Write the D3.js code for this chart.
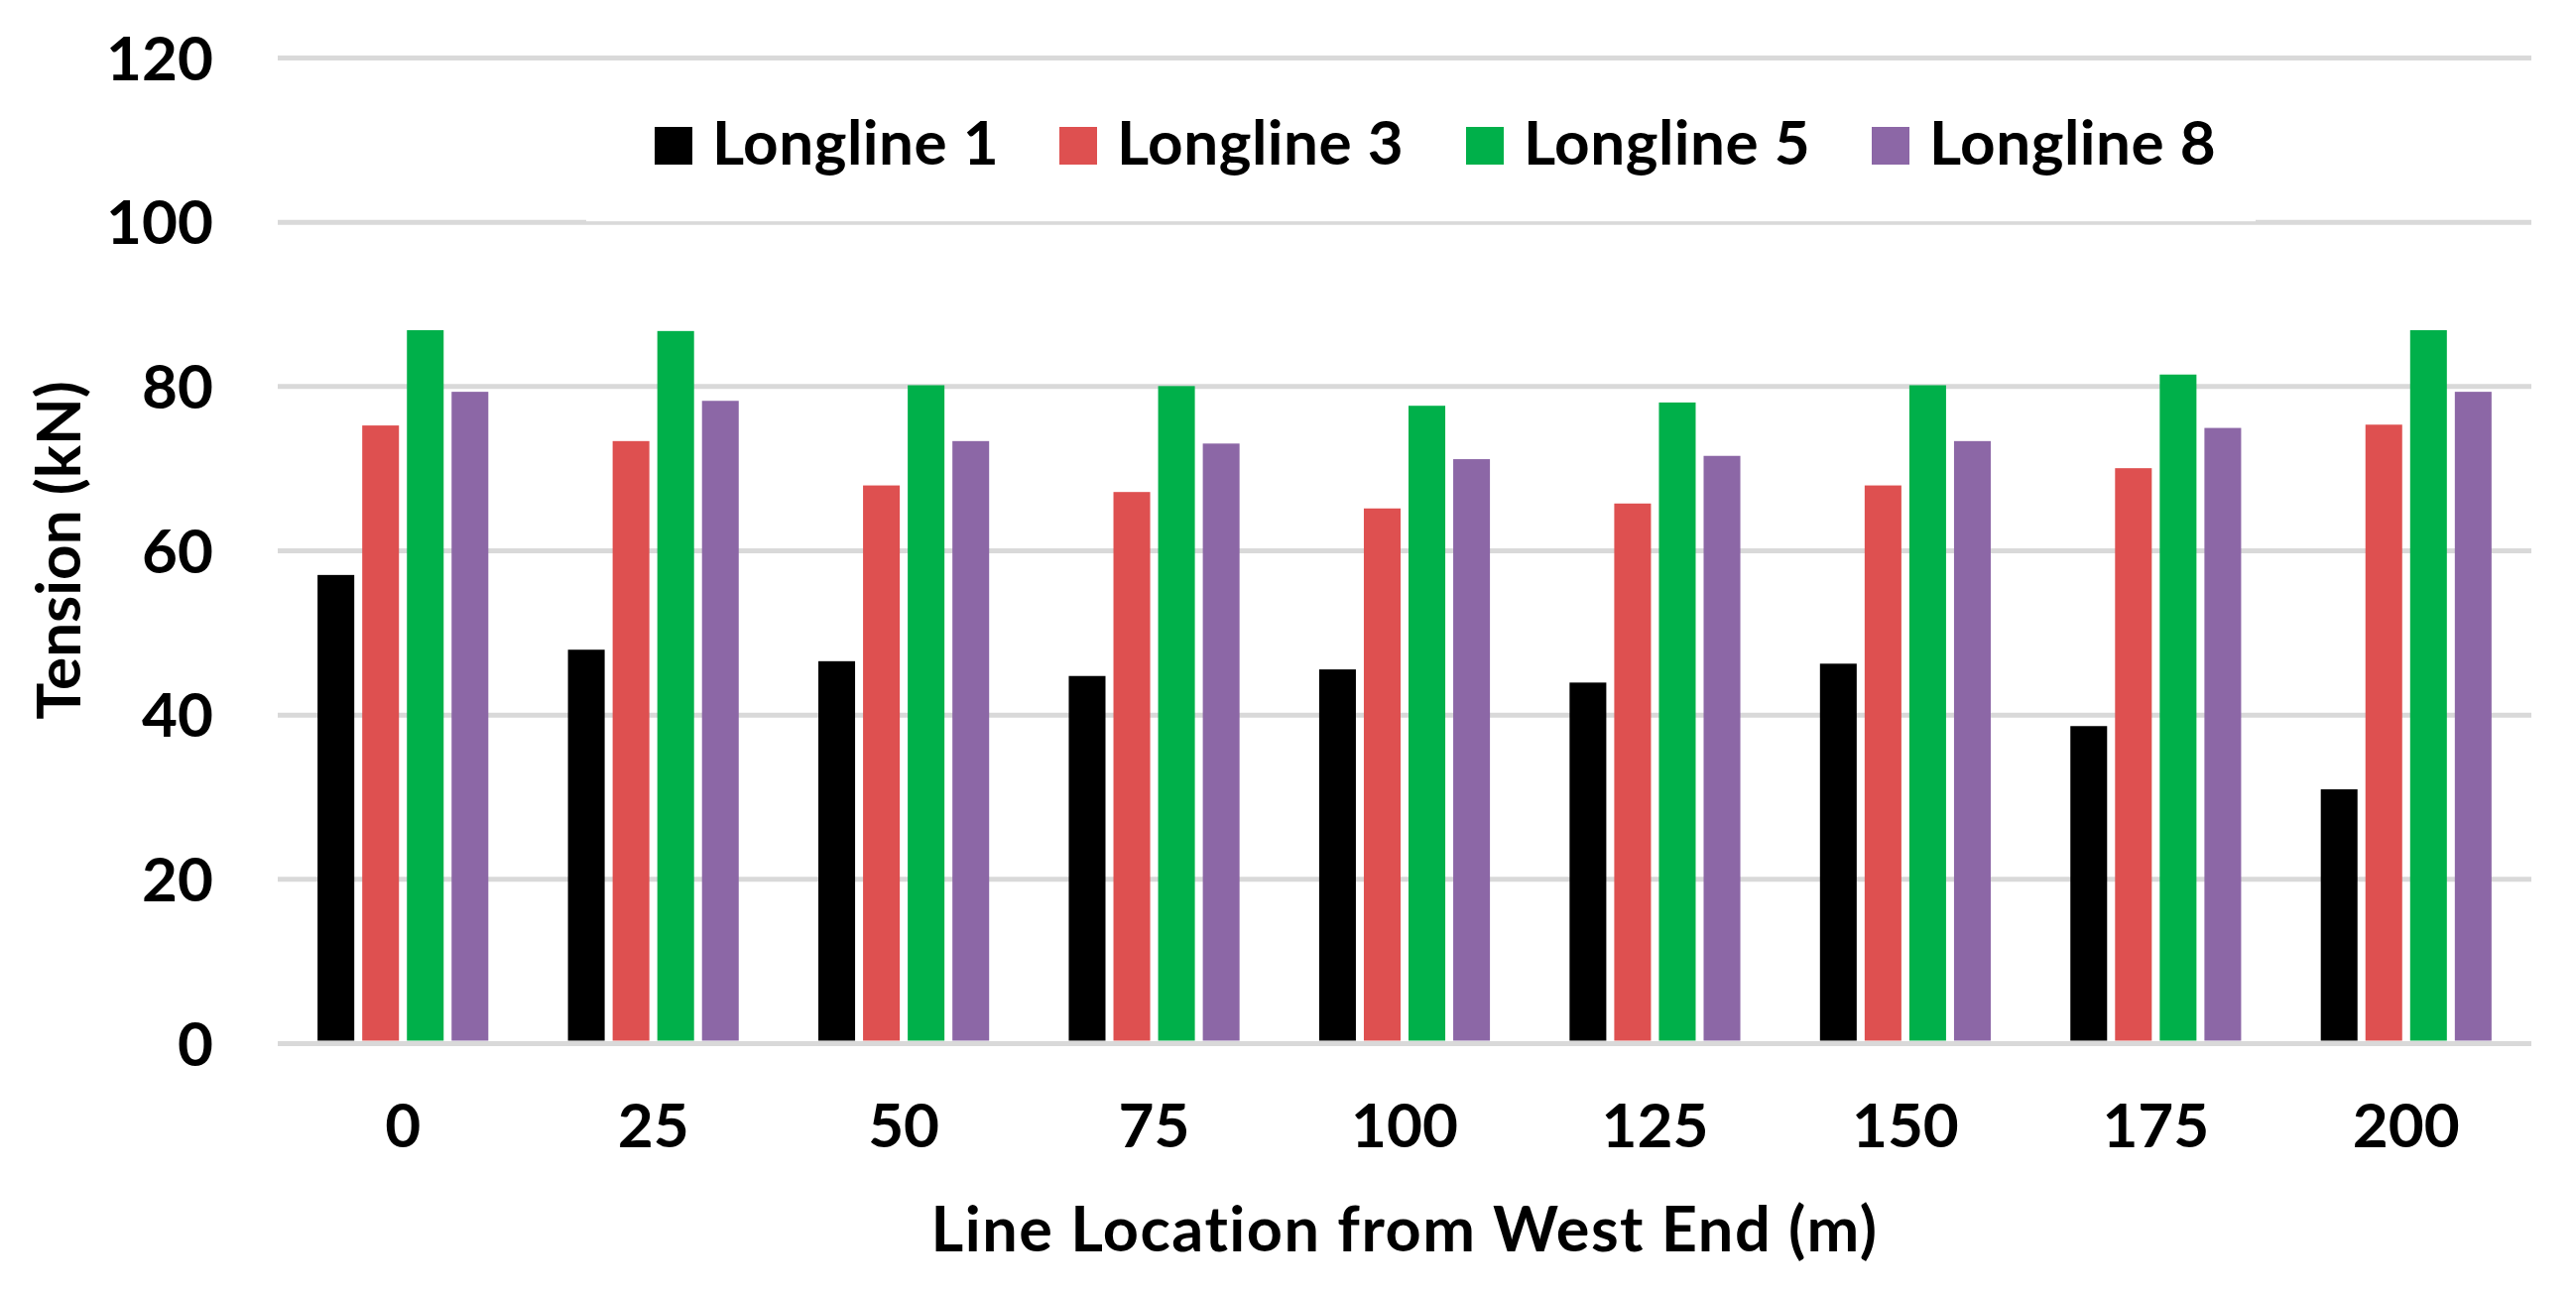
<!DOCTYPE html>
<html>
<head>
<meta charset="utf-8">
<script src="https://cdn.jsdelivr.net/npm/d3@7"></script>
<style>
  html, body { margin: 0; padding: 0; background: #fff; }
  text { font-family: Lato, "Open Sans", sans-serif; font-weight: bold; fill: #000; }
</style>
</head>
<body>
<div id="chart"></div>
<script>
const width = 2597;
const height = 1305;

// Dados
const locations = ["0", "25", "50", "75", "100", "125", "150", "175", "200"];
const seriesNames = ["Longline 1", "Longline 3", "Longline 5", "Longline 8"];
const seriesColors = ["#000000", "#DE5050", "#00B04A", "#8C67A6"];
const longline1 = [57.0, 47.9, 46.5, 44.7, 45.5, 43.9, 46.2, 38.6, 30.9];
const longline3 = [75.2, 73.3, 67.9, 67.1, 65.1, 65.7, 67.9, 70.0, 75.3];
const longline5 = [86.8, 86.7, 80.1, 80.0, 77.6, 78.0, 80.1, 81.4, 86.8];
const longline8 = [79.3, 78.2, 73.3, 73.0, 71.1, 71.5, 73.3, 74.9, 79.3];
const yTicks = [0, 20, 40, 60, 80, 100, 120];

const seriesValues = [longline1, longline3, longline5, longline8];

const plot = { left: 280, right: 2552, top: 58, bottom: 1052 };

const svg = d3.select("#chart")
    .append("svg")
    .attr("width", width)
    .attr("height", height)
    .attr("viewBox", `0 0 ${width} ${height}`);

const x = d3.scaleBand()
    .domain(locations)
    .range([plot.left, plot.right])
    .paddingInner(0.318)
    .paddingOuter(0.159);

const xInner = d3.scaleBand()
    .domain(d3.range(seriesNames.length))
    .range([0, x.bandwidth()])
    .paddingInner(0.178);

const y = d3.scaleLinear()
    .domain([0, 120])
    .range([plot.bottom, plot.top]);

// eixo Y + linhas de grade
const yAxis = svg.append("g")
    .attr("transform", `translate(${plot.left},0)`)
    .call(d3.axisLeft(y)
        .tickValues(yTicks)
        .tickSize(-(plot.right - plot.left))
        .tickPadding(65));

yAxis.select(".domain").remove();
yAxis.selectAll(".tick line")
    .attr("stroke", "#D9D9D9")
    .attr("stroke-width", 5);
yAxis.selectAll(".tick text")
    .attr("dy", "0.36em")
    .style("font-size", "62px");

// fundo branco da legenda (corta um pouco a linha de 100)
svg.append("rect")
    .attr("x", 591)
    .attr("y", 64)
    .attr("width", 2274 - 591)
    .attr("height", y(100) - 64 - 0.5)
    .attr("fill", "#fff");

// Barras
const groups = svg.append("g")
    .selectAll("g")
    .data(locations)
    .join("g")
    .attr("transform", d => `translate(${x(d)},0)`);

groups.selectAll("rect")
    .data((d, i) => seriesValues.map((vals, s) => ({ s, v: vals[i] })))
    .join("rect")
    .attr("x", d => xInner(d.s))
    .attr("width", xInner.bandwidth())
    .attr("y", d => y(d.v))
    .attr("height", d => y(0) - y(d.v) - 2.5)
    .attr("fill", d => seriesColors[d.s]);

// eixo X
const xAxis = svg.append("g")
    .attr("transform", `translate(0,${plot.bottom})`)
    .call(d3.axisBottom(x).tickSize(0).tickPadding(61));

xAxis.select(".domain").remove();
xAxis.selectAll(".tick text").style("font-size", "62px");

// Títulos dos eixos
svg.append("text")
    .attr("x", (plot.left + plot.right) / 2)
    .attr("y", 1262)
    .attr("text-anchor", "middle")
    .style("font-size", "63px")
    .style("letter-spacing", "1.5px")
    .text("Line Location from West End (m)");

svg.append("text")
    .attr("transform", `translate(81,${(plot.top + plot.bottom) / 2}) rotate(-90)`)
    .attr("text-anchor", "middle")
    .style("font-size", "62px")
    .text("Tension (kN)");

// Legenda
const legendX = [660, 1068, 1478, 1887];
const legend = svg.append("g")
    .selectAll("g")
    .data(seriesNames)
    .join("g")
    .attr("transform", (d, i) => `translate(${legendX[i]},0)`);

legend.append("rect")
    .attr("x", 0)
    .attr("y", 128)
    .attr("width", 38)
    .attr("height", 38)
    .attr("fill", (d, i) => seriesColors[i]);

legend.append("text")
    .attr("x", 58)
    .attr("y", 166)
    .style("font-size", "62px")
    .style("letter-spacing", "0.5px")
    .text(d => d);
</script>
</body>
</html>
